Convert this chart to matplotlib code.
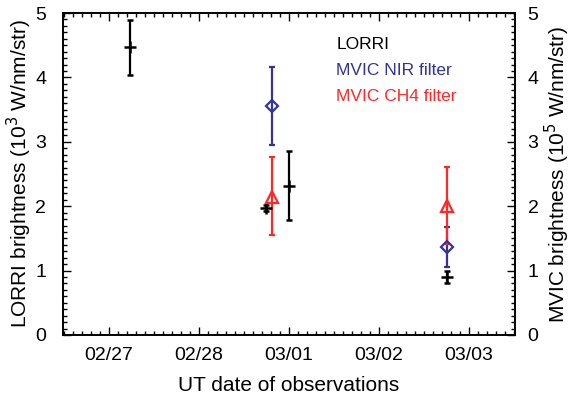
import matplotlib
matplotlib.use("Agg")
import matplotlib.pyplot as plt
from matplotlib.ticker import MultipleLocator

# jours depuis 02/27 00:00 UT
date_labels = ["02/27", "02/28", "03/01", "03/02", "03/03"]

lorri_t = [0.24, 1.75, 2.0, 3.76]
lorri_y = [4.47, 1.97, 2.31, 0.90]
lorri_lo = [0.43, 0.05, 0.52, 0.10]
lorri_hi = [0.42, 0.05, 0.54, 0.10]

nir_t = [1.815, 3.76]
nir_y = [3.55, 1.36]
nir_lo = [0.60, 0.30]
nir_hi = [0.61, 0.31]

ch4_t = [1.815, 3.76]
ch4_y = [2.15, 2.00]
ch4_lo = [0.60, 0.59]
ch4_hi = [0.62, 0.61]

blue = "#33339a"
red = "#ff2828"

plt.rcParams['font.family'] = ['Liberation Sans', 'DejaVu Sans']

fig, ax = plt.subplots(figsize=(5.71, 3.95), dpi=100)
fig.subplots_adjust(left=0.11, right=0.902, top=0.967, bottom=0.152)

ax.errorbar(lorri_t, lorri_y, yerr=[lorri_lo, lorri_hi], fmt="+", color="black",
            ms=9, mew=1.8, elinewidth=1.6, capsize=2.5, capthick=1.6)
ax.errorbar(nir_t, nir_y, yerr=[nir_lo, nir_hi], fmt="D", color=blue, mfc="none",
            ms=6, mew=1.6, elinewidth=1.6, capsize=2.5, capthick=1.6)
ax.errorbar(ch4_t, ch4_y, yerr=[ch4_lo, ch4_hi], fmt="^", color=red, mfc="none",
            ms=8, mew=1.6, elinewidth=1.6, capsize=2.5, capthick=1.6)

ax.set_xlim(-0.51, 4.51)
ax.set_ylim(0, 5)
ax.set_xticks(range(len(date_labels)))
ax.set_xticklabels(date_labels)
ax.xaxis.set_minor_locator(MultipleLocator(0.1))
ax.yaxis.set_major_locator(MultipleLocator(1))
ax.yaxis.set_minor_locator(MultipleLocator(0.1))
ax.tick_params(which="both", direction="in", top=True, labelsize=14, width=1)
ax.tick_params(axis="x", pad=9)
ax.tick_params(axis="y", pad=12)
ax.tick_params(which="major", length=6)
ax.tick_params(which="minor", length=3)

ax.set_xlabel("UT date of observations", fontsize=15, labelpad=8)
ax.set_ylabel("LORRI brightness (10$^3$ W/nm/str)", fontsize=15, labelpad=1)

ax2 = ax.twinx()
ax2.set_ylim(0, 5)
ax2.yaxis.set_major_locator(MultipleLocator(1))
ax2.yaxis.set_minor_locator(MultipleLocator(0.1))
ax2.tick_params(which="both", direction="in", labelsize=14, width=1, pad=9)
ax2.tick_params(which="major", length=6)
ax2.tick_params(which="minor", length=3)
ax2.set_ylabel("MVIC brightness (10$^5$ W/nm/str)", fontsize=15, labelpad=3)

for a in (ax, ax2):
    for s in a.spines.values():
        s.set_linewidth(1.2)

# légende en texte coloré
ax.text(0.605, 0.903, "LORRI", color="black", fontsize=12.5, transform=ax.transAxes, va="center")
ax.text(0.605, 0.820, "MVIC NIR filter", color=blue, fontsize=12.5, transform=ax.transAxes, va="center")
ax.text(0.605, 0.742, "MVIC CH4 filter", color=red, fontsize=12.5, transform=ax.transAxes, va="center")

fig.savefig("out.png", dpi=100)
